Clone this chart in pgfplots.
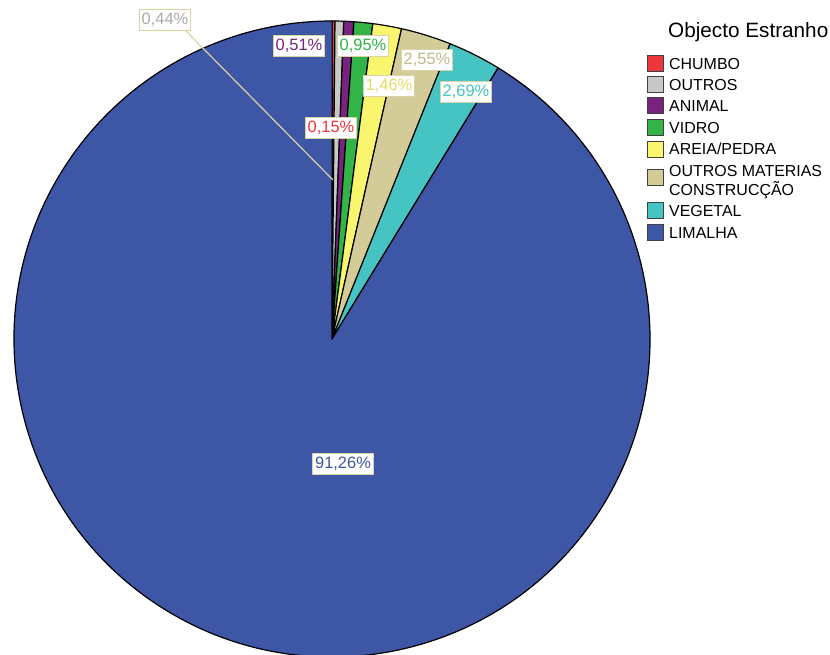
\documentclass[border=0pt]{standalone}
\usepackage{pgfplots}
\pgfplotsset{compat=1.18}
\usepackage{fontspec}
\setmainfont{Liberation Sans}
\definecolor{cChumbo}{RGB}{238,55,60}
\definecolor{cOutros}{RGB}{200,200,200}
\definecolor{cAnimal}{RGB}{120,35,125}
\definecolor{cVidro}{RGB}{50,180,70}
\definecolor{cAreia}{RGB}{250,245,110}
\definecolor{cMat}{RGB}{212,204,152}
\definecolor{cVeg}{RGB}{70,195,195}
\definecolor{cLim}{RGB}{62,86,166}
\definecolor{labframe}{RGB}{216,210,165}
\begin{document}
\begin{tikzpicture}
\path[use as bounding box] (0,0) rectangle (830bp,655bp);
\begin{axis}[at={(0,0)}, anchor=south west, scale only axis,
  width=830bp, height=655bp, xmin=0, xmax=830, ymin=0, ymax=655,
  hide axis, clip=true]
\gdef\cum{0}
\foreach \v/\c in {0.15/cChumbo, 0.44/cOutros, 0.51/cAnimal, 0.95/cVidro,
                   1.46/cAreia, 2.55/cMat, 2.69/cVeg, 91.26/cLim}{
  \pgfmathsetmacro\a{90-3.6*\cum}
  \pgfmathsetmacro\newcum{\cum+\v}
  \xdef\cum{\newcum}
  \pgfmathsetmacro\b{90-3.6*\cum}
  \edef\temp{\noexpand\filldraw[fill=\c, draw=black, line width=1.2bp, line join=round] (axis cs:332,316) -- ++(\a:318bp) arc[start angle=\a, end angle=\b, radius=318bp] -- cycle;}
  \temp
}
% leader line
\draw[labframe, line width=1.2bp] (axis cs:185,625) -- (axis cs:333,475);
% labels
\tikzset{lab/.style={fill=white, draw=labframe, line width=0.9bp, inner xsep=2.5bp, inner ysep=2.5bp,
  text height=12bp, text depth=3.5bp, font=\fontsize{16.5}{18}\selectfont}}
\node[lab, text=cOutros!85!black] at (axis cs:165,635) {0,44\%};
\node[lab, text=cAnimal] at (axis cs:299,609) {0,51\%};
\node[lab, text=cVidro] at (axis cs:363,609) {0,95\%};
\node[lab, text=cMat!90!black] at (axis cs:427,595) {2,55\%};
\node[lab, text=cAreia!90!black] at (axis cs:389,569) {1,46\%};
\node[lab, text=cVeg] at (axis cs:466,563) {2,69\%};
\node[lab, text=cChumbo] at (axis cs:331,527) {0,15\%};
\node[lab, text=cLim] at (axis cs:343,191) {91,26\%};
% legend
\node[anchor=base west, inner sep=0pt, font=\fontsize{20.8}{22}\selectfont] at (axis cs:668,617) {Objecto Estranho};
\foreach \y/\c in {591/cChumbo, 570/cOutros, 549/cAnimal, 527/cVidro, 505.5/cAreia, 477/cMat, 444/cVeg, 422/cLim}{
  \edef\temp{\noexpand\filldraw[fill=\c, draw=black!75, line width=1bp] (axis cs:647.5,\y-8) rectangle (axis cs:663.5,\y+8);}
  \temp
}
\tikzset{leg/.style={anchor=base west, inner sep=0pt, font=\fontsize{16}{18}\selectfont}}
\node[leg] at (axis cs:669,585.5) {CHUMBO};
\node[leg] at (axis cs:669,564.5) {OUTROS};
\node[leg] at (axis cs:669,543.5) {ANIMAL};
\node[leg] at (axis cs:669,521.5) {VIDRO};
\node[leg] at (axis cs:669,500) {AREIA/PEDRA};
\node[leg] at (axis cs:669,478.5) {OUTROS MATERIAS};
\node[leg] at (axis cs:669,459.5) {CONSTRUCÇÃO};
\node[leg] at (axis cs:669,438.5) {VEGETAL};
\node[leg] at (axis cs:669,416.5) {LIMALHA};
\end{axis}
\end{tikzpicture}
\end{document}
